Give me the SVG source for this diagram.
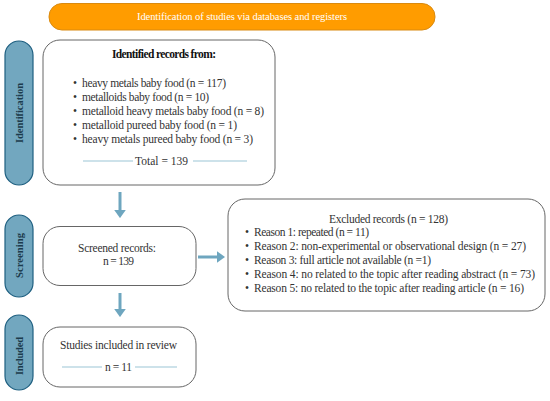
<svg xmlns="http://www.w3.org/2000/svg" width="550" height="401" viewBox="0 0 550 401">
<defs>
<style>
.box{fill:#fff;stroke:#666;stroke-width:1}
.side{fill:#72a7bf;stroke:#1e5f80;stroke-width:1.2}
.t{font-family:"Liberation Serif","DejaVu Serif",serif;font-size:11.5px;fill:#333}
.c{text-anchor:middle}
.st{font-family:"Liberation Serif","DejaVu Serif",serif;font-size:10.5px;fill:#1c3b4c;font-weight:bold;text-anchor:middle}
.rule{stroke:#9cc5d6;stroke-width:1.2}
.arr{stroke:#6ea6bf;stroke-width:3;fill:none}
</style>
<marker id="ah" viewBox="0 0 7 10" refX="0" refY="5" markerWidth="2.7" markerHeight="4" orient="auto" markerUnits="strokeWidth">
<path d="M0,0 L7,5 L0,10 z" fill="#6ea6bf"/>
</marker>
</defs>
<rect width="550" height="401" fill="#fff"/>
<g id="header">
<rect x="49" y="3.5" width="386" height="26.5" rx="13" fill="#ff9c00" stroke="#d98a10" stroke-width="1"/>
<text class="t c" x="242" y="20" style="fill:#fff;font-size:10.5px" textLength="210">Identification of studies via databases and registers</text>
</g>
<g id="side-identification">
<rect class="side" x="5" y="41" width="28" height="144" rx="14"/>
<text class="st" transform="translate(23,113) rotate(-90)" textLength="60">Identification</text>
</g>
<g id="side-screening">
<rect class="side" x="5" y="215" width="28" height="82" rx="14"/>
<text class="st" transform="translate(23,255.5) rotate(-90)" textLength="45">Screening</text>
</g>
<g id="side-included">
<rect class="side" x="5" y="315" width="28" height="75" rx="14"/>
<text class="st" transform="translate(23,356) rotate(-90)" textLength="38">Included</text>
</g>
<g id="identified">
<rect class="box" x="43" y="40" width="232" height="145" rx="17"/>
<text class="t c" x="164" y="58" style="fill:#111" font-weight="bold" textLength="104">Identified records from:</text>
<text class="t" x="73" y="87">•</text><text class="t" x="82" y="87" textLength="144">heavy metals baby food (n = 117)</text>
<text class="t" x="73" y="101">•</text><text class="t" x="82" y="101" textLength="127">metalloids baby food (n = 10)</text>
<text class="t" x="73" y="115">•</text><text class="t" x="82" y="115" textLength="182">metalloid heavy metals baby food (n = 8)</text>
<text class="t" x="73" y="129">•</text><text class="t" x="82" y="129" textLength="155">metalloid pureed baby food (n = 1)</text>
<text class="t" x="73" y="143">•</text><text class="t" x="82" y="143" textLength="171">heavy metals pureed baby food (n = 3)</text>
<line class="rule" x1="83" y1="161" x2="133" y2="161"/>
<text class="t c" x="161.5" y="165" textLength="53">Total = 139</text>
<line class="rule" x1="193" y1="161" x2="247" y2="161"/>
</g>
<g id="screened">
<rect class="box" x="43" y="226.5" width="153" height="59" rx="17"/>
<text class="t c" x="117" y="252" textLength="78">Screened records:</text>
<text class="t c" x="118.5" y="265" textLength="31">n = 139</text>
</g>
<g id="excluded">
<rect class="box" x="228" y="199" width="317" height="112" rx="17"/>
<text class="t c" x="388.5" y="223" textLength="119">Excluded records (n = 128)</text>
<text class="t" x="245" y="236">•</text><text class="t" x="254" y="236" textLength="115">Reason 1: repeated (n = 11)</text>
<text class="t" x="245" y="250">•</text><text class="t" x="254" y="250" textLength="272">Reason 2: non-experimental or observational design (n = 27)</text>
<text class="t" x="245" y="264">•</text><text class="t" x="254" y="264" textLength="177">Reason 3: full article not available (n =1)</text>
<text class="t" x="245" y="278">•</text><text class="t" x="254" y="278" textLength="281">Reason 4: no related to the topic after reading abstract (n = 73)</text>
<text class="t" x="245" y="292">•</text><text class="t" x="254" y="292" textLength="270">Reason 5: no related to the topic after reading article (n = 16)</text>
</g>
<g id="included">
<rect class="box" x="43" y="327" width="153" height="60" rx="17"/>
<text class="t c" x="118.5" y="349" textLength="117">Studies included in review</text>
<line class="rule" x1="62" y1="367" x2="102" y2="367"/>
<text class="t c" x="118.5" y="371" textLength="27">n = 11</text>
<line class="rule" x1="135" y1="367" x2="177" y2="367"/>
</g>
<g id="connectors">
<line class="arr" x1="120" y1="192" x2="120" y2="210" marker-end="url(#ah)"/>
<line class="arr" x1="198" y1="257" x2="217" y2="257" marker-end="url(#ah)"/>
<line class="arr" x1="120" y1="293" x2="120" y2="309" marker-end="url(#ah)"/>
</g>
</svg>
